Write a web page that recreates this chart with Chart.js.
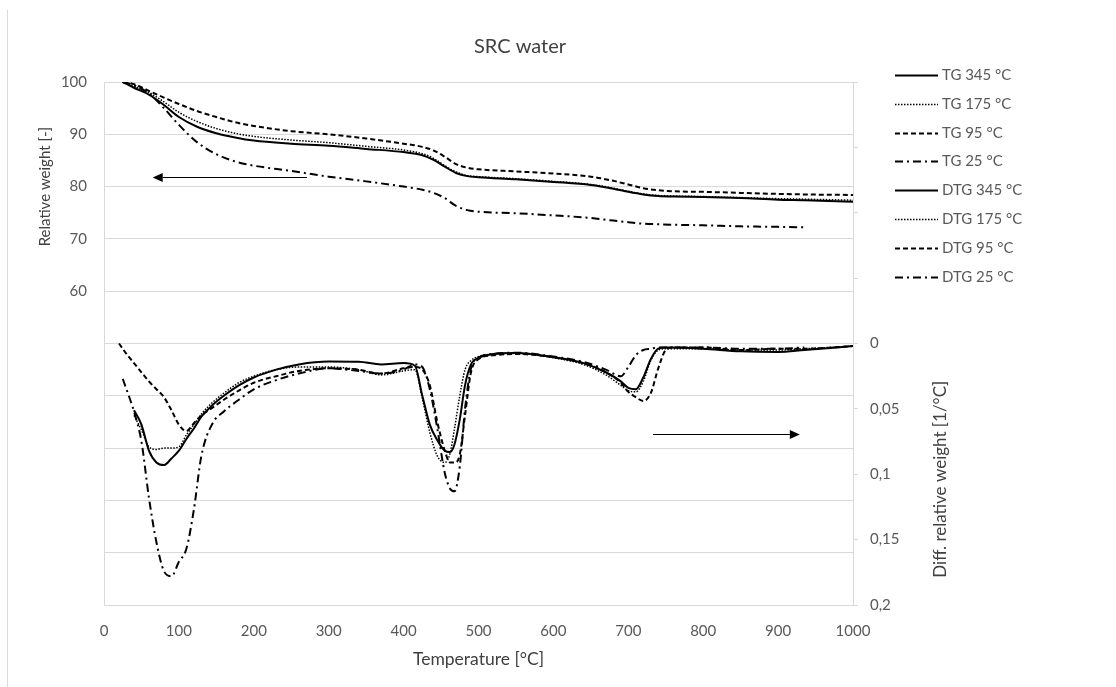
<!DOCTYPE html>
<html>
<head>
<meta charset="utf-8">
<title>SRC water</title>
<script src="https://cdn.jsdelivr.net/npm/chart.js@4.4.1/dist/chart.umd.min.js"></script>
<style>
  html, body { margin: 0; padding: 0; background: #ffffff; }
  #wrap { width: 1116px; height: 687px; position: relative; }
</style>
</head>
<body>
<div id="wrap"><canvas id="chart" width="1116" height="687"></canvas></div>
<script>
// Thermogravimetric curves (relative weight, %)
const tgTemp = [25, 40, 60, 80, 100, 125, 150, 175, 200, 250, 300, 350, 400, 425, 440, 455, 470, 485, 500, 550, 600, 650, 680, 700, 720, 740, 760, 800, 850, 900, 935, 1000];
const tg345 = [100, 98.9, 97.6, 95.6, 93.3, 91.4, 90.2, 89.4, 88.8, 88.2, 87.8, 87.2, 86.6, 86.0, 85.1, 83.8, 82.6, 82.0, 81.8, 81.4, 80.9, 80.3, 79.6, 79.0, 78.5, 78.2, 78.1, 78.0, 77.8, 77.5, 77.4, 77.1];
const tg175 = [100, 99.2, 98.0, 96.2, 94.2, 92.4, 91.1, 90.2, 89.6, 88.9, 88.4, 87.7, 87.0, 86.3, 85.4, 84.0, 82.8, 82.1, 81.9, 81.5, 81.0, 80.4, 79.7, 79.1, 78.6, 78.3, 78.2, 78.1, 77.9, 77.7, 77.6, 77.4];
const tg95 = [100, 99.6, 98.3, 97.0, 95.8, 94.4, 93.3, 92.3, 91.6, 90.6, 90.0, 89.2, 88.2, 87.6, 86.9, 85.7, 84.3, 83.6, 83.3, 82.9, 82.5, 81.9, 81.1, 80.4, 79.7, 79.3, 79.1, 79.0, 78.8, 78.6, 78.5, 78.4];
const tg25 = [100, 99.4, 97.8, 95.0, 91.8, 88.4, 86.2, 84.8, 84.0, 83.0, 81.9, 81.0, 80.0, 79.4, 78.8, 77.8, 76.3, 75.5, 75.2, 74.9, 74.5, 74.0, 73.5, 73.2, 72.9, 72.8, 72.7, 72.6, 72.4, 72.3, 72.2, null];

// Derivative curves (1/°C)
const dtgTemp = [20, 25, 30, 40, 50, 60, 70, 80, 90, 100, 110, 120, 130, 145, 160, 180, 200, 230, 260, 300, 340, 370, 400, 415, 425, 435, 445, 455, 462, 468, 475, 482, 490, 500, 520, 550, 600, 640, 670, 690, 700, 710, 720, 730, 740, 750, 760, 800, 850, 900, 935, 1000];
const dtg345 = [null, null, null, 0.051, 0.062, 0.082, 0.091, 0.093, 0.088, 0.082, 0.073, 0.065, 0.056, 0.047, 0.040, 0.032, 0.026, 0.020, 0.016, 0.0138, 0.014, 0.016, 0.015, 0.017, 0.040, 0.062, 0.074, 0.082, 0.083, 0.077, 0.058, 0.032, 0.016, 0.011, 0.008, 0.0072, 0.0105, 0.015, 0.022, 0.029, 0.034, 0.035, 0.026, 0.012, 0.004, 0.003, 0.003, 0.004, 0.006, 0.0065, 0.005, 0.002];
const dtg175 = [null, null, null, 0.055, 0.066, 0.079, 0.081, 0.080, 0.080, 0.079, 0.070, 0.062, 0.054, 0.045, 0.038, 0.030, 0.025, 0.020, 0.018, 0.018, 0.020, 0.024, 0.021, 0.020, 0.042, 0.068, 0.086, 0.091, 0.084, 0.065, 0.040, 0.020, 0.013, 0.010, 0.008, 0.0075, 0.011, 0.016, 0.024, 0.032, 0.036, 0.037, 0.029, 0.013, 0.005, 0.004, 0.004, 0.004, 0.005, 0.005, 0.004, 0.002];
const dtg95 = [0.000, 0.004, 0.008, 0.015, 0.022, 0.029, 0.035, 0.041, 0.051, 0.062, 0.067, 0.061, 0.055, 0.049, 0.043, 0.036, 0.030, 0.025, 0.021, 0.019, 0.020, 0.023, 0.019, 0.018, 0.020, 0.032, 0.060, 0.082, 0.091, 0.091, 0.085, 0.055, 0.022, 0.012, 0.009, 0.008, 0.0105, 0.015, 0.022, 0.030, 0.037, 0.041, 0.044, 0.038, 0.019, 0.005, 0.003, 0.003, 0.005, 0.004, 0.004, 0.002];
const dtg25 = [null, 0.027, 0.035, 0.052, 0.075, 0.118, 0.152, 0.174, 0.178, 0.167, 0.157, 0.127, 0.086, 0.061, 0.052, 0.043, 0.035, 0.028, 0.023, 0.019, 0.021, 0.023, 0.020, 0.016, 0.018, 0.035, 0.065, 0.099, 0.111, 0.113, 0.094, 0.050, 0.019, 0.011, 0.008, 0.007, 0.010, 0.014, 0.020, 0.025, 0.018, 0.009, 0.005, 0.004, 0.003, 0.003, 0.003, 0.003, 0.004, 0.004, 0.003, null];

const seriesLabels = ['TG 345 °C', 'TG 175 °C', 'TG 95 °C', 'TG 25 °C', 'DTG 345 °C', 'DTG 175 °C', 'DTG 95 °C', 'DTG 25 °C'];

// Axis tick settings
const tempTicks = { min: 0, max: 1000, step: 100 };
const weightTicks = { min: 0, max: 100, step: 10, firstLabelled: 60 };
const diffTicks = { min: -0.2, max: 0.2, step: 0.05 };

// Direction arrows (data units): weight arrow points left, derivative arrow points right
const weightArrow = { value: 81.8, fromT: 271, toT: 65 };
const diffArrow = { value: 0.069, fromT: 733, toT: 929 };

const FONT = 'Lato, "Open Sans", sans-serif';
const TICK_COLOR = '#595959';
const TITLE_COLOR = '#404040';
const GRID_COLOR = '#d9d9d9';

const lineStyles = {
  solid:   { dash: [],            width: 2 },
  dotted:  { dash: [1.5, 1.5],    width: 1.5 },
  dashed:  { dash: [5, 3],        width: 2 },
  dashdot: { dash: [8, 4, 2, 4],  width: 2 }
};

function pairs(xs, ys) {
  return xs.map((x, i) => ({ x: x, y: ys[i] }));
}

function makeSet(label, xs, ys, axis, style) {
  const s = lineStyles[style];
  return {
    label: label,
    data: pairs(xs, ys),
    yAxisID: axis,
    borderColor: '#000000',
    backgroundColor: '#000000',
    borderWidth: s.width,
    borderDash: s.dash,
    borderCapStyle: 'butt',
    pointRadius: 0,
    pointHoverRadius: 0,
    fill: false,
    spanGaps: false,
    cubicInterpolationMode: 'monotone'
  };
}

const datasets = [
  makeSet(seriesLabels[0], tgTemp, tg345, 'yW', 'solid'),
  makeSet(seriesLabels[1], tgTemp, tg175, 'yW', 'dotted'),
  makeSet(seriesLabels[2], tgTemp, tg95, 'yW', 'dashed'),
  makeSet(seriesLabels[3], tgTemp, tg25, 'yW', 'dashdot'),
  makeSet(seriesLabels[4], dtgTemp, dtg345, 'yD', 'solid'),
  makeSet(seriesLabels[5], dtgTemp, dtg175, 'yD', 'dotted'),
  makeSet(seriesLabels[6], dtgTemp, dtg95, 'yD', 'dashed'),
  makeSet(seriesLabels[7], dtgTemp, dtg25, 'yD', 'dashdot')
];

function decimalComma(v) {
  return String(parseFloat(Number(v).toFixed(3))).replace('.', ',');
}

// Outer frame line on the left edge
const framePlugin = {
  id: 'frame',
  beforeDraw(chart) {
    const ctx = chart.ctx;
    ctx.save();
    ctx.strokeStyle = GRID_COLOR;
    ctx.lineWidth = 1;
    ctx.beginPath();
    ctx.moveTo(7.5, 10);
    ctx.lineTo(7.5, chart.height);
    ctx.stroke();
    ctx.restore();
  }
};

// Chart title and axis titles, each centred on the labelled part of its axis
const titlesPlugin = {
  id: 'titles',
  afterDraw(chart) {
    const ctx = chart.ctx;
    const area = chart.chartArea;
    const yW = chart.scales.yW;
    const yD = chart.scales.yD;
    ctx.save();
    ctx.fillStyle = TITLE_COLOR;
    ctx.textAlign = 'center';
    ctx.textBaseline = 'middle';

    ctx.font = '20px ' + FONT;
    ctx.fillText('SRC water', 520, 47);

    ctx.font = '17.5px ' + FONT;
    ctx.fillText('Temperature [°C]', (area.left + area.right) / 2, 659);

    const wMid = (yW.getPixelForValue(weightTicks.max) + yW.getPixelForValue(weightTicks.firstLabelled)) / 2;
    ctx.font = '15px ' + FONT;
    ctx.save();
    ctx.translate(45, wMid);
    ctx.rotate(-Math.PI / 2);
    ctx.fillText('Relative weight [-]', 0, 0);
    ctx.restore();

    const dMid = (yD.getPixelForValue(0) + yD.getPixelForValue(diffTicks.max)) / 2 + 5;
    ctx.font = '17px ' + FONT;
    ctx.save();
    ctx.translate(941, dMid);
    ctx.rotate(-Math.PI / 2);
    ctx.fillText('Diff. relative weight [1/°C]', 0, 0);
    ctx.restore();

    ctx.restore();
  }
};

// Arrows showing which axis each group of curves belongs to
function drawArrow(ctx, x1, y, x2) {
  const dir = x2 > x1 ? 1 : -1;
  const headLen = 10, headHalf = 4.5;
  ctx.beginPath();
  ctx.moveTo(x1, y);
  ctx.lineTo(x2 - dir * headLen, y);
  ctx.stroke();
  ctx.beginPath();
  ctx.moveTo(x2, y);
  ctx.lineTo(x2 - dir * headLen, y - headHalf);
  ctx.lineTo(x2 - dir * headLen, y + headHalf);
  ctx.closePath();
  ctx.fill();
}

const arrowsPlugin = {
  id: 'arrows',
  afterDatasetsDraw(chart) {
    const ctx = chart.ctx;
    const x = chart.scales.x;
    const yW = chart.scales.yW;
    const yD = chart.scales.yD;
    ctx.save();
    ctx.strokeStyle = '#000000';
    ctx.fillStyle = '#000000';
    ctx.lineWidth = 1.2;
    const wy = Math.round(yW.getPixelForValue(weightArrow.value)) + 0.5;
    drawArrow(ctx, x.getPixelForValue(weightArrow.fromT), wy, x.getPixelForValue(weightArrow.toT));
    const dy = Math.round(yD.getPixelForValue(diffArrow.value)) + 0.5;
    drawArrow(ctx, x.getPixelForValue(diffArrow.fromT), dy, x.getPixelForValue(diffArrow.toT));
    ctx.restore();
  }
};

// Legend column on the right with line samples
const legendPlugin = {
  id: 'sideLegend',
  afterDraw(chart) {
    const ctx = chart.ctx;
    const x0 = 895, x1 = 938, textX = 942, top = 75, step = 28.8;
    ctx.save();
    ctx.font = '15px ' + FONT;
    ctx.textAlign = 'left';
    ctx.textBaseline = 'middle';
    chart.data.datasets.forEach((ds, i) => {
      const y = Math.round(top + i * step) + 0.5;
      ctx.strokeStyle = ds.borderColor;
      ctx.lineWidth = ds.borderWidth;
      ctx.setLineDash(ds.borderDash || []);
      ctx.lineCap = 'butt';
      ctx.beginPath();
      ctx.moveTo(x0, y);
      ctx.lineTo(x1, y);
      ctx.stroke();
      ctx.setLineDash([]);
      ctx.fillStyle = TICK_COLOR;
      ctx.fillText(ds.label, textX, y);
    });
    ctx.restore();
  }
};

Chart.defaults.font.family = FONT;

new Chart(document.getElementById('chart'), {
  type: 'line',
  data: { datasets: datasets },
  plugins: [framePlugin, arrowsPlugin, titlesPlugin, legendPlugin],
  options: {
    responsive: false,
    animation: false,
    devicePixelRatio: 1,
    layout: { padding: { top: 82, left: 0, right: 0, bottom: 0 } },
    plugins: {
      legend: { display: false },
      tooltip: { enabled: false },
      title: { display: false }
    },
    scales: {
      x: {
        type: 'linear',
        position: 'bottom',
        min: tempTicks.min,
        max: tempTicks.max,
        ticks: {
          stepSize: tempTicks.step,
          color: TICK_COLOR,
          font: { size: 15 },
          padding: 17,
          maxRotation: 0,
          autoSkip: false,
          callback: (v) => String(v)
        },
        grid: { display: false, drawTicks: false },
        border: { display: true, color: GRID_COLOR, width: 1 },
        afterFit(scale) { scale.height = 82; }
      },
      yW: {
        type: 'linear',
        position: 'left',
        min: weightTicks.min,
        max: weightTicks.max,
        ticks: {
          stepSize: weightTicks.step,
          color: TICK_COLOR,
          font: { size: 15 },
          padding: 17,
          callback: (v) => (v >= weightTicks.firstLabelled ? String(v) : '')
        },
        grid: { color: GRID_COLOR, lineWidth: 1, drawTicks: false },
        border: { display: true, color: GRID_COLOR, width: 1 },
        afterFit(scale) { scale.width = 104; }
      },
      yD: {
        type: 'linear',
        position: 'right',
        min: diffTicks.min,
        max: diffTicks.max,
        reverse: true,
        ticks: {
          stepSize: diffTicks.step,
          color: TICK_COLOR,
          font: { size: 15 },
          padding: 12,
          callback: (v) => (v >= -1e-9 ? decimalComma(Math.abs(v) < 1e-9 ? 0 : v) : '')
        },
        grid: { drawOnChartArea: false, drawTicks: true, tickLength: 5, color: GRID_COLOR },
        border: { display: true, color: GRID_COLOR, width: 1 },
        afterFit(scale) { scale.width = 263; }
      }
    }
  }
});
</script>
</body>
</html>
